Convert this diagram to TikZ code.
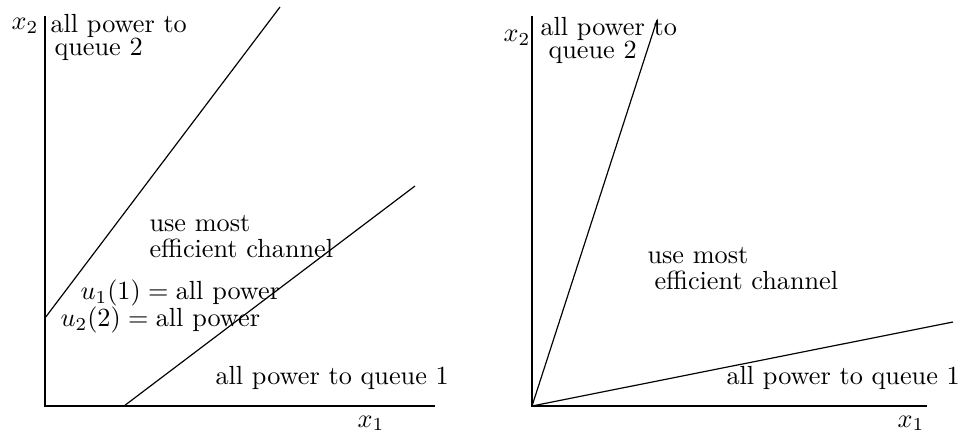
\documentclass[tikz,border=0pt]{standalone}
\begin{document}
\begin{tikzpicture}[x=0.0134cm,y=-0.0134cm,
  axisline/.style={line width=0.9pt},
  boundary/.style={line width=0.45pt},
  lbl/.style={anchor=base west,inner sep=0pt,font=\fontsize{10}{12}\selectfont}]
\useasboundingbox (0,0) rectangle (963,433);
% left panel
\coordinate (Ltop) at (45,16);
\coordinate (Lorig) at (45,406);
\coordinate (Lend) at (435,406);
\draw[axisline] (Ltop) -- (Lorig) -- (Lend);
\coordinate (A1) at (45,318);
\coordinate (A2) at (280,7);
\coordinate (B1) at (124,406);
\coordinate (B2) at (415,186);
\draw[boundary] (A1) -- (A2);
\draw[boundary] (B1) -- (B2);
\node[lbl] (lx2) at (11,30) {$x_2$};
\node[lbl] (lq2a) at (50,33) {all power to};
\node[lbl] (lq2b) at (54,56) {queue 2};
\node[lbl] (lum) at (149,232) {use most};
\node[lbl] (lec) at (149,258) {efficient channel};
\node[lbl] (lu1) at (80,300) {$u_1(1) = \mbox{all power}$};
\node[lbl] (lu2) at (60,327) {$u_2(2) = \mbox{all power}$};
\node[lbl] (lq1) at (215,385) {all power to queue 1};
\node[lbl] (lx1) at (357,427) {$x_1$};
% right panel
\coordinate (Rtop) at (532,16);
\coordinate (Rorig) at (532,406);
\coordinate (Rend) at (927,406);
\draw[axisline] (Rtop) -- (Rorig) -- (Rend);
\coordinate (C2) at (657,20);
\coordinate (D2) at (953,322);
\draw[boundary] (Rorig) -- (C2);
\draw[boundary] (Rorig) -- (D2);
\node[lbl] (rx2) at (503,42) {$x_2$};
\node[lbl] (rq2a) at (540,36) {all power to};
\node[lbl] (rq2b) at (548,59) {queue 2};
\node[lbl] (rum) at (647,264) {use most};
\node[lbl] (rec) at (654,290) {efficient channel};
\node[lbl] (rq1) at (726,385) {all power to queue 1};
\node[lbl] (rx1) at (897,427) {$x_1$};
\end{tikzpicture}
\end{document}
